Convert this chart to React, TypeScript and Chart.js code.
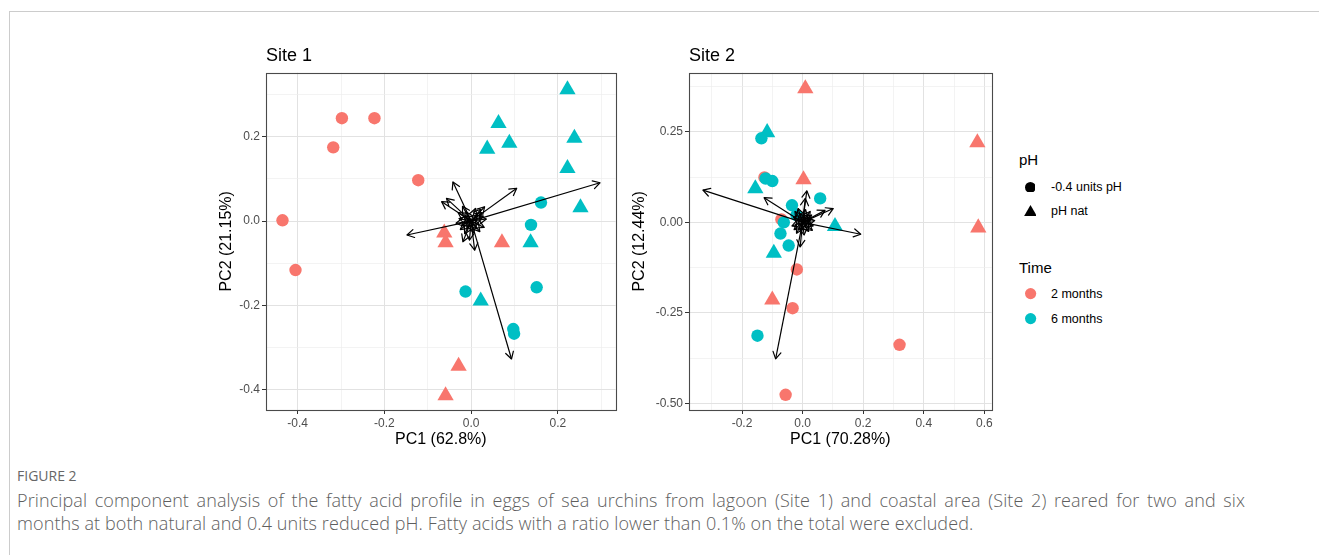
import React, { useEffect, useRef } from 'react';
import { Chart, registerables } from 'chart.js';

Chart.register(...registerables);
Chart.defaults.font.family = '"Liberation Sans", Arial, Helvetica, sans-serif';

type Pt = [number, number];

const RED = '#F8766D';
const TEAL = '#00BFC4';

// ---------- Site 1 scores (PC1, PC2) ----------
const site1TwoMonthsLowPH: Pt[] = [
  [-0.298, 0.244], [-0.223, 0.244], [-0.318, 0.175], [-0.122, 0.097], [-0.435, 0.002], [-0.405, -0.116],
];
const site1TwoMonthsNatPH: Pt[] = [
  [-0.062, -0.028], [-0.059, -0.051], [0.071, -0.051], [-0.029, -0.344], [-0.059, -0.414],
];
const site1SixMonthsLowPH: Pt[] = [
  [0.161, 0.044], [0.138, -0.009], [-0.013, -0.167], [0.151, -0.157], [0.097, -0.256], [0.099, -0.267],
];
const site1SixMonthsNatPH: Pt[] = [
  [0.222, 0.312], [0.063, 0.232], [0.037, 0.171], [0.088, 0.185], [0.238, 0.197], [0.222, 0.125],
  [0.252, 0.032], [0.137, -0.051], [0.022, -0.189],
];
const site1Loadings: Pt[] = [
  [0.297, 0.091], [-0.148, -0.033], [0.093, -0.327], [0.105, 0.078], [-0.042, 0.093], [-0.057, 0.054],
  [-0.068, 0.046], [0.008, -0.069], [-0.019, -0.049], [-0.004, -0.045],
  [0.031, 0.034], [0.025, 0.02], [-0.03, 0.02], [-0.035, -0.005], [0.02, -0.025], [-0.015, -0.03],
  [0.035, 0.005], [0.01, 0.03], [-0.02, 0.035], [-0.025, -0.02], [0.015, 0.015], [-0.01, -0.015],
  [0.028, 0.012], [-0.018, 0.012], [0.012, -0.018], [-0.028, 0.006], [0.022, 0.028], [-0.012, 0.022],
  [0.005, -0.028], [-0.022, -0.01], [0.018, -0.008], [0.03, -0.015],
];

// ---------- Site 2 scores (PC1, PC2) ----------
const site2TwoMonthsLowPH: Pt[] = [
  [-0.126, 0.124], [-0.07, 0.008], [-0.019, -0.130], [-0.033, -0.237], [0.320, -0.338], [-0.056, -0.476],
];
const site2TwoMonthsNatPH: Pt[] = [
  [0.009, 0.369], [0.577, 0.220], [0.003, 0.118], [0.580, -0.015], [-0.100, -0.214],
];
const site2SixMonthsLowPH: Pt[] = [
  [-0.136, 0.232], [-0.122, 0.121], [-0.100, 0.114], [0.058, 0.066], [-0.035, 0.047], [-0.062, 0.0],
  [-0.073, -0.031], [-0.046, -0.064], [-0.149, -0.313], [-0.02, 0.02],
];
const site2SixMonthsNatPH: Pt[] = [
  [-0.117, 0.248], [-0.156, 0.093], [-0.095, -0.085], [0.107, -0.011],
];
const site2Loadings: Pt[] = [
  [-0.329, 0.089], [0.192, -0.033], [-0.089, -0.377], [-0.127, 0.068], [0.014, 0.087], [0.009, 0.066],
  [0.101, 0.038], [0.074, 0.033], [-0.008, -0.068],
  [0.03, 0.02], [-0.03, 0.015], [0.035, -0.01], [-0.02, -0.03], [0.01, 0.035], [-0.035, -0.01],
  [0.02, -0.025], [0.025, 0.03], [-0.01, 0.025], [0.005, -0.035], [0.04, 0.005], [-0.025, 0.03],
  [0.028, 0.008], [-0.018, 0.008], [0.012, -0.015], [-0.028, -0.02], [0.018, 0.022], [-0.008, -0.022],
  [0.032, -0.022], [-0.015, 0.038], [0.006, 0.018],
];

// ---------- Axes ----------
const site1XLimits = [-0.473, 0.333];
const site1YLimits = [-0.448, 0.352];
const site1XMajor = [-0.4, -0.2, 0, 0.2];
const site1XLabels = ['-0.4', '-0.2', '0.0', '0.2'];
const site1XMinor = [-0.3, -0.1, 0.1, 0.3];
const site1YMajor = [-0.4, -0.2, 0, 0.2];
const site1YLabels = ['-0.4', '-0.2', '0.0', '0.2'];
const site1YMinor = [-0.3, -0.1, 0.1, 0.3];

const site2XLimits = [-0.375, 0.624];
const site2YLimits = [-0.518, 0.413];
const site2XMajor = [-0.2, 0, 0.2, 0.4, 0.6];
const site2XLabels = ['-0.2', '0.0', '0.2', '0.4', '0.6'];
const site2XMinor = [-0.3, -0.1, 0.1, 0.3, 0.5];
const site2YMajor = [-0.5, -0.25, 0, 0.25];
const site2YLabels = ['-0.50', '-0.25', '0.00', '0.25'];
const site2YMinor = [-0.375, -0.125, 0.125, 0.375];

const near = (a: number, b: number) => Math.abs(a - b) < 1e-9;

function axis(
  lim: number[], major: number[], labels: string[], minor: number[],
  title: string, horizontal: boolean, size: number, titlePad: number,
) {
  const isMajor = (ctx: any) => !!ctx.tick && major.some((m) => near(m, ctx.tick.value));
  return {
    type: 'linear',
    min: lim[0],
    max: lim[1],
    afterBuildTicks: (s: any) => {
      s.ticks = [...major, ...minor].sort((a, b) => a - b).map((v) => ({ value: v }));
    },
    afterFit: (s: any) => {
      if (horizontal) s.height = size; else s.width = size;
    },
    ticks: {
      autoSkip: false,
      maxRotation: 0,
      minRotation: 0,
      includeBounds: false,
      padding: 2,
      color: '#4d4d4d',
      font: { size: 12 },
      callback: (v: any) => {
        const i = major.findIndex((m) => near(m, Number(v)));
        return i >= 0 ? labels[i] : '';
      },
    },
    grid: {
      drawTicks: true,
      tickLength: 4,
      tickWidth: 1,
      color: (ctx: any) => (isMajor(ctx) ? '#e2e2e2' : '#eeeeee'),
      lineWidth: (ctx: any) => (isMajor(ctx) ? 1 : 0.7),
      tickColor: (ctx: any) => (isMajor(ctx) ? '#333333' : 'rgba(0,0,0,0)'),
    },
    border: { display: false },
    title: {
      display: true,
      text: title,
      color: '#000',
      font: { size: 16 },
      padding: horizontal ? { top: 0, bottom: titlePad } : { top: titlePad, bottom: 0 },
    },
  };
}

interface PanelSpec {
  title: string;
  xTitle: string;
  yTitle: string;
  xLim: number[]; yLim: number[];
  xMajor: number[]; xLabels: string[]; xMinor: number[];
  yMajor: number[]; yLabels: string[]; yMinor: number[];
  groups: { data: Pt[]; color: string; shape: 'circle' | 'triangle'; order: number }[];
  loadings: Pt[];
  yAxisWidth: number;
  yTitlePad: number;
}

function buildConfig(p: PanelSpec): any {
  const arrowDatasets = p.loadings.map((l) => ({
    data: [{ x: 0, y: 0 }, { x: l[0], y: l[1] }],
    showLine: true,
    borderColor: '#000',
    borderWidth: 1.2,
    pointRadius: 0,
    order: 0,
  }));
  const pointDatasets = p.groups.map((g) => ({
    data: g.data.map((d) => ({ x: d[0], y: d[1] })),
    pointStyle: g.shape,
    pointRadius: g.shape === 'circle' ? 6.2 : 9.4,
    backgroundColor: g.color,
    borderColor: g.color,
    borderWidth: 0,
    showLine: false,
    order: g.order,
  }));
  const loadings = p.loadings;
  const arrowHeads = {
    id: 'arrowHeads',
    afterDatasetsDraw(chart: any) {
      const { ctx, scales } = chart;
      const x = scales.x, y = scales.y;
      ctx.save();
      ctx.strokeStyle = '#000';
      ctx.lineWidth = 1.2;
      ctx.lineCap = 'round';
      ctx.lineJoin = 'round';
      const x0 = x.getPixelForValue(0), y0 = y.getPixelForValue(0);
      for (const [lx, ly] of loadings) {
        const x1 = x.getPixelForValue(lx), y1 = y.getPixelForValue(ly);
        const ang = Math.atan2(y1 - y0, x1 - x0);
        const L = 8, a = Math.PI / 6;
        ctx.beginPath();
        ctx.moveTo(x1 - L * Math.cos(ang - a), y1 - L * Math.sin(ang - a));
        ctx.lineTo(x1, y1);
        ctx.lineTo(x1 - L * Math.cos(ang + a), y1 - L * Math.sin(ang + a));
        ctx.stroke();
      }
      ctx.restore();
    },
  };
  const panelBorder = {
    id: 'panelBorder',
    afterDraw(chart: any) {
      const { ctx, chartArea: a } = chart;
      ctx.save();
      ctx.strokeStyle = '#4a4a4a';
      ctx.lineWidth = 1.1;
      ctx.strokeRect(Math.round(a.left) + 0.5, Math.round(a.top) + 0.5,
        Math.round(a.right - a.left), Math.round(a.bottom - a.top));
      ctx.restore();
    },
  };
  return {
    type: 'scatter',
    data: { datasets: [...arrowDatasets, ...pointDatasets] },
    options: {
      animation: false,
      responsive: false,
      maintainAspectRatio: false,
      events: [],
      layout: { padding: { top: 0, right: 6, bottom: 0, left: 0 } },
      plugins: {
        legend: { display: false },
        tooltip: { enabled: false },
        title: {
          display: true,
          text: p.title,
          align: 'start',
          fullSize: false,
          color: '#000',
          font: { size: 18, weight: 'normal' },
          padding: { top: 10.7, bottom: 5.4 },
        },
      },
      scales: {
        x: axis(p.xLim, p.xMajor, p.xLabels, p.xMinor, p.xTitle, true, 45, 5.4),
        y: axis(p.yLim, p.yMajor, p.yLabels, p.yMinor, p.yTitle, false, p.yAxisWidth, p.yTitlePad),
      },
    },
    plugins: [arrowHeads, panelBorder],
  };
}

function Panel(props: { spec: PanelSpec; left: number; top: number; width: number; height: number }) {
  const ref = useRef<HTMLCanvasElement>(null);
  useEffect(() => {
    const chart = new Chart(ref.current as HTMLCanvasElement, buildConfig(props.spec));
    return () => chart.destroy();
  }, []);
  return (
    <div style={{ position: 'absolute', left: props.left, top: props.top, width: props.width, height: props.height }}>
      <canvas ref={ref} width={props.width} height={props.height} />
    </div>
  );
}

const site1Spec: PanelSpec = {
  title: 'Site 1', xTitle: 'PC1 (62.8%)', yTitle: 'PC2 (21.15%)',
  xLim: site1XLimits, yLim: site1YLimits,
  xMajor: site1XMajor, xLabels: site1XLabels, xMinor: site1XMinor,
  yMajor: site1YMajor, yLabels: site1YLabels, yMinor: site1YMinor,
  groups: [
    { data: site1TwoMonthsLowPH, color: RED, shape: 'circle', order: 2 },
    { data: site1TwoMonthsNatPH, color: RED, shape: 'triangle', order: 2 },
    { data: site1SixMonthsLowPH, color: TEAL, shape: 'circle', order: 1 },
    { data: site1SixMonthsNatPH, color: TEAL, shape: 'triangle', order: 1 },
  ],
  loadings: site1Loadings,
  yAxisWidth: 66,
  yTitlePad: 17.4,
};

const site2Spec: PanelSpec = {
  title: 'Site 2', xTitle: 'PC1 (70.28%)', yTitle: 'PC2 (12.44%)',
  xLim: site2XLimits, yLim: site2YLimits,
  xMajor: site2XMajor, xLabels: site2XLabels, xMinor: site2XMinor,
  yMajor: site2YMajor, yLabels: site2YLabels, yMinor: site2YMinor,
  groups: [
    { data: site2TwoMonthsLowPH, color: RED, shape: 'circle', order: 2 },
    { data: site2TwoMonthsNatPH, color: RED, shape: 'triangle', order: 2 },
    { data: site2SixMonthsLowPH, color: TEAL, shape: 'circle', order: 1 },
    { data: site2SixMonthsNatPH, color: TEAL, shape: 'triangle', order: 1 },
  ],
  loadings: site2Loadings,
  yAxisWidth: 64,
  yTitlePad: 5.4,
};

const legendShapes = ['-0.4 units pH', 'pH nat'];
const legendTimes = ['2 months', '6 months'];

function Circle({ color, r }: { color: string; r: number }) {
  return (
    <svg width={2 * r} height={2 * r} style={{ display: 'block' }}>
      <circle cx={r} cy={r} r={r} fill={color} />
    </svg>
  );
}
function Triangle({ color, r }: { color: string; r: number }) {
  const w = r * Math.sqrt(3);
  const h = 1.5 * r;
  return (
    <svg width={w} height={h} style={{ display: 'block' }}>
      <polygon points={`${w / 2},0 ${w},${h} 0,${h}`} fill={color} />
    </svg>
  );
}

const abs = (left: number, cy: number, extra: any = {}) => ({
  position: 'absolute' as const, left, top: cy, transform: 'translateY(-50%)', lineHeight: 1, whiteSpace: 'nowrap' as const, ...extra,
});

export default function App() {
  const legendFont = '"Liberation Sans", Arial, Helvetica, sans-serif';
  return (
    <div style={{ position: 'absolute', left: 0, top: 0, width: 1319, height: 555, overflow: 'hidden', background: '#fff' }}>
      <div style={{ position: 'absolute', left: 9, top: 11, width: 1320, height: 560, borderTop: '1px solid #cccccc', borderLeft: '1px solid #cccccc' }} />
      <Panel spec={site1Spec} left={200} top={35} width={425} height={420} />
      <Panel spec={site2Spec} left={625} top={35} width={376} height={420} />

      <div style={{ fontFamily: legendFont, color: '#000' }}>
        <div style={abs(1019, 159, { fontSize: 15 })}>pH</div>
        <div style={{ position: 'absolute', left: 1030 - 5.4, top: 187 - 5.4 }}><Circle color="#000" r={5.4} /></div>
        <div style={abs(1051, 187, { fontSize: 12.5 })}>{legendShapes[0]}</div>
        <div style={{ position: 'absolute', left: 1030 - 6.5, top: 211 - 6 }}><Triangle color="#000" r={7.5} /></div>
        <div style={abs(1051, 211, { fontSize: 12.5 })}>{legendShapes[1]}</div>
        <div style={abs(1019, 267, { fontSize: 15 })}>Time</div>
        <div style={{ position: 'absolute', left: 1031 - 5.6, top: 294 - 5.6 }}><Circle color={RED} r={5.6} /></div>
        <div style={abs(1051, 294, { fontSize: 12.5 })}>{legendTimes[0]}</div>
        <div style={{ position: 'absolute', left: 1031 - 5.6, top: 319 - 5.6 }}><Circle color={TEAL} r={5.6} /></div>
        <div style={abs(1051, 319, { fontSize: 12.5 })}>{legendTimes[1]}</div>
      </div>

      <div style={{ fontFamily: '"Open Sans", "Noto Sans", sans-serif', color: '#5e5e5e' }}>
        <div style={abs(17, 476, { fontSize: 14, letterSpacing: 0, color: '#666' })}>FIGURE 2</div>
        <div style={{ position: 'absolute', left: 17, top: 489, width: 1228, fontSize: 18, fontWeight: 300, letterSpacing: 0.1, lineHeight: '23px', textAlign: 'justify', textAlignLast: 'justify', whiteSpace: 'nowrap' }}>
          Principal component analysis of the fatty acid profile in eggs of sea urchins from lagoon (Site 1) and coastal area (Site 2) reared for two and six
        </div>
        <div style={{ position: 'absolute', left: 17, top: 512, fontSize: 18, fontWeight: 300, letterSpacing: 0.1, lineHeight: '23px', whiteSpace: 'nowrap' }}>
          months at both natural and 0.4 units reduced pH. Fatty acids with a ratio lower than 0.1% on the total were excluded.
        </div>
      </div>
    </div>
  );
}
